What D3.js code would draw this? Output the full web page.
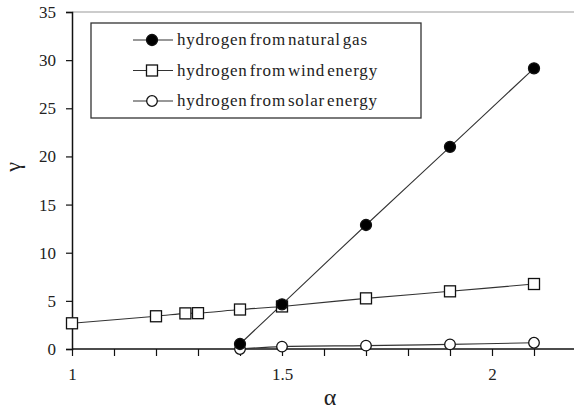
<!DOCTYPE html>
<html>
<head>
<meta charset="utf-8">
<script src="https://cdn.jsdelivr.net/npm/d3@7"></script>
<style>
  body { margin: 0; background: #fff; }
  svg { display: block; }
</style>
</head>
<body>
<div id="chart"></div>
<script>
// alpha values and gamma for each hydrogen source
const alphaGas = [1.4, 1.5, 1.7, 1.9, 2.1];
const gammaGas = [0.52, 4.64, 12.88, 21.0, 29.15];

const alphaWind = [1.0, 1.2, 1.27, 1.3, 1.4, 1.5, 1.7, 1.9, 2.1];
const gammaWind = [2.67, 3.4, 3.7, 3.72, 4.1, 4.42, 5.26, 5.99, 6.75];

const alphaSolar = [1.4, 1.5, 1.7, 1.9, 2.1];
const gammaSolar = [0.0, 0.25, 0.35, 0.48, 0.65];

const yTicks = [0, 5, 10, 15, 20, 25, 30, 35];
const xLabelTicks = [1, 1.5, 2];
const xMinorTicks = d3.range(10, 23).map((d) => d / 10);

const legendLabels = [
  "hydrogen from natural gas",
  "hydrogen from wind energy",
  "hydrogen from solar energy",
];

const FONT = "Liberation Serif";
const width = 574;
const height = 410;
const margin = { top: 12, right: -2, bottom: 61, left: 72 };

const svg = d3
  .select("#chart")
  .append("svg")
  .attr("width", width)
  .attr("height", height)
  .attr("font-family", FONT);

const x = d3
  .scaleLinear()
  .domain([1, 2.2])
  .range([margin.left, width - margin.right]);

const y = d3
  .scaleLinear()
  .domain([0, 35])
  .range([height - margin.bottom, margin.top]);

// ── plot area top border ──
svg
  .append("line")
  .attr("x1", margin.left)
  .attr("x2", width)
  .attr("y1", y(35))
  .attr("y2", y(35))
  .attr("stroke", "#999")
  .attr("stroke-width", 1.2);

// ── Axes ──
const yAxis = svg
  .append("g")
  .attr("transform", `translate(${margin.left},0)`)
  .call(d3.axisLeft(y).tickValues(yTicks).tickSize(6).tickPadding(10));

const xAxis = svg
  .append("g")
  .attr("transform", `translate(0,${y(0)})`)
  .call(
    d3
      .axisBottom(x)
      .tickValues(xMinorTicks)
      .tickSize(7)
      .tickPadding(12)
      .tickFormat((d) => (xLabelTicks.some((t) => Math.abs(t - d) < 1e-9) ? d3.format("")(d) : ""))
  );

[yAxis, xAxis].forEach((g) => {
  g.attr("font-family", FONT);
  g.selectAll(".domain").attr("stroke", "#111").attr("stroke-width", 1.5);
  g.selectAll(".tick line").attr("stroke", "#111").attr("stroke-width", 1.2);
  g.selectAll("text")
    .attr("font-family", FONT)
    .attr("font-size", "17px")
    .attr("fill", "#222");
});
xAxis.select(".domain").attr("d", `M${x(1)},0H${width}`);

// axis titles
svg
  .append("text")
  .attr("transform", `translate(20,167) rotate(-90)`)
  .attr("text-anchor", "middle")
  .attr("font-family", FONT)
  .attr("font-size", "22px")
  .attr("fill", "#222")
  .text("γ");

svg
  .append("text")
  .attr("x", 330)
  .attr("y", 405)
  .attr("text-anchor", "middle")
  .attr("font-family", FONT)
  .attr("font-size", "24px")
  .attr("fill", "#222")
  .text("α");

// ── Lines ──
const line = d3
  .line()
  .x((d) => x(d[0]))
  .y((d) => y(d[1]))
  .curve(d3.curveCatmullRom.alpha(0.5));

const series = [
  { xs: alphaWind, ys: gammaWind, marker: "square" },
  { xs: alphaSolar, ys: gammaSolar, marker: "open" },
  { xs: alphaGas, ys: gammaGas, marker: "filled" },
];

series.forEach((s) => {
  const pts = s.xs.map((a, i) => [a, s.ys[i]]);
  svg
    .append("path")
    .attr("d", line(pts))
    .attr("fill", "none")
    .attr("stroke", "#333")
    .attr("stroke-width", 1.1);
});

function drawMarker(g, kind, cx, cy) {
  if (kind === "square") {
    g.append("rect")
      .attr("x", cx - 5.5)
      .attr("y", cy - 5.5)
      .attr("width", 11)
      .attr("height", 11)
      .attr("fill", "#fff")
      .attr("stroke", "#111")
      .attr("stroke-width", 1.3);
  } else {
    g.append("circle")
      .attr("cx", cx)
      .attr("cy", cy)
      .attr("r", kind === "filled" ? 5.5 : 5.3)
      .attr("fill", kind === "filled" ? "#000" : "#fff")
      .attr("stroke", "#111")
      .attr("stroke-width", 1.3);
  }
}

series.forEach((s) => {
  const g = svg.append("g");
  s.xs.forEach((a, i) => drawMarker(g, s.marker, x(a), y(s.ys[i])));
});

// ── Legend ──
const legend = svg.append("g");
legend
  .append("rect")
  .attr("x", 91)
  .attr("y", 23)
  .attr("width", 330)
  .attr("height", 95)
  .attr("fill", "#fff")
  .attr("stroke", "#333")
  .attr("stroke-width", 1.3);

const legendKinds = ["filled", "square", "open"];
legendLabels.forEach((label, i) => {
  const ly = 40 + i * 30.5;
  legend
    .append("line")
    .attr("x1", 133)
    .attr("x2", 173)
    .attr("y1", ly)
    .attr("y2", ly)
    .attr("stroke", "#333")
    .attr("stroke-width", 1.1);
  drawMarker(legend, legendKinds[i], 152, ly);
  legend
    .append("text")
    .attr("x", 177)
    .attr("y", ly + 5)
    .attr("font-family", FONT)
    .attr("font-size", "17px")
    .attr("letter-spacing", "0.8px")
    .attr("word-spacing", "-3px")
    .attr("fill", "#222")
    .text(label);
});
</script>
</body>
</html>
